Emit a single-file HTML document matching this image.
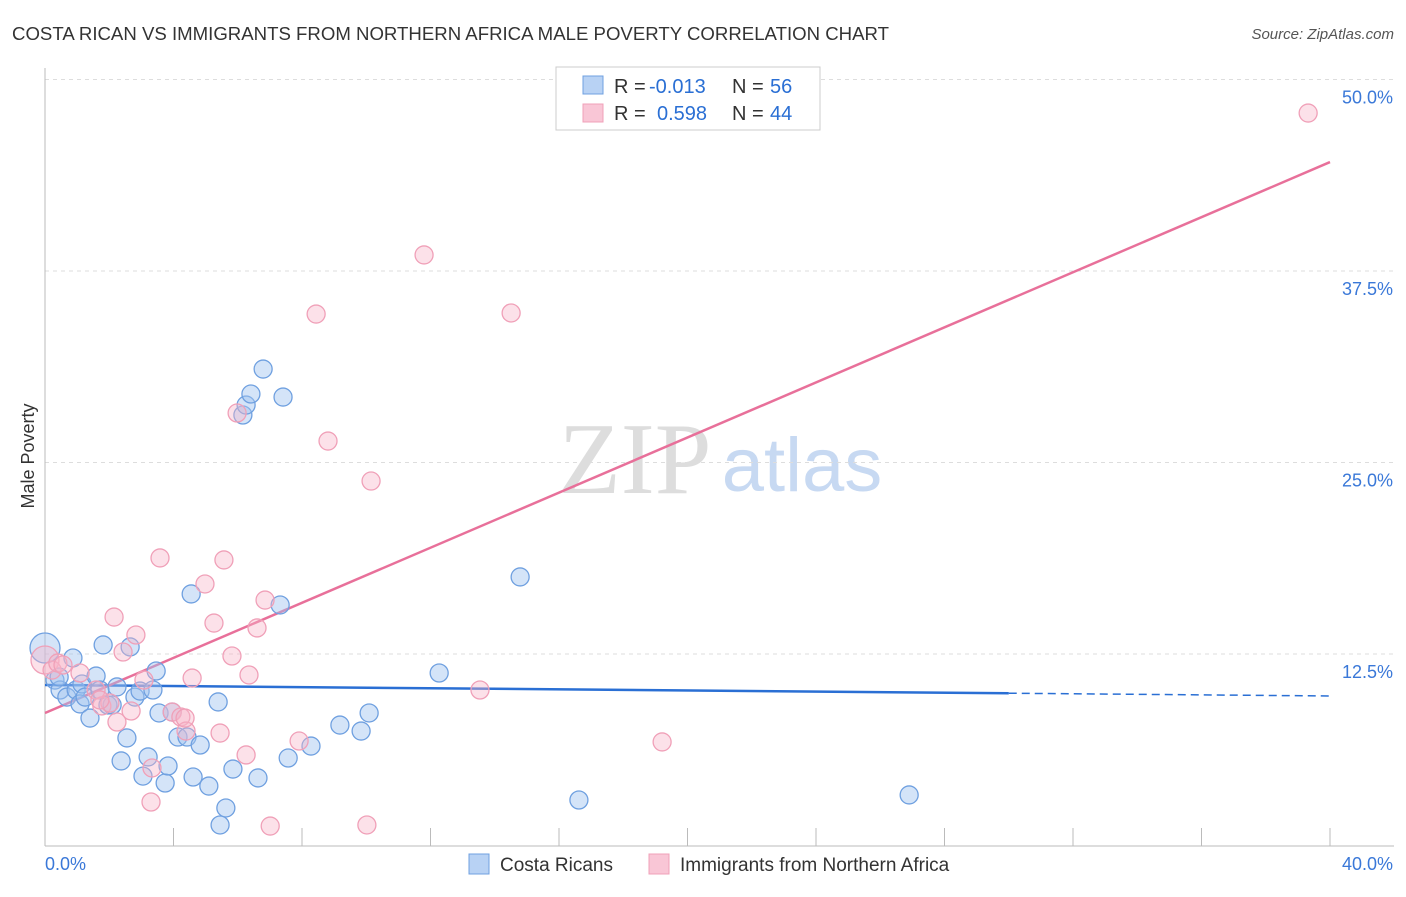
<!DOCTYPE html>
<html><head><meta charset="utf-8"><style>
body{margin:0;background:#fff;font-family:"Liberation Sans",sans-serif;}
svg text{font-family:"Liberation Sans",sans-serif;}
</style></head><body>
<svg id="chart" width="1406" height="892" xmlns="http://www.w3.org/2000/svg">
<text x="12" y="40" font-size="18" fill="#333" textLength="877" lengthAdjust="spacingAndGlyphs">COSTA RICAN VS IMMIGRANTS FROM NORTHERN AFRICA MALE POVERTY CORRELATION CHART</text>
<text x="1394" y="39" font-size="15" fill="#555" text-anchor="end" font-style="italic">Source: ZipAtlas.com</text>
<text x="34" y="456" font-size="18" fill="#333" text-anchor="middle" transform="rotate(-90 34 456)">Male Poverty</text>
<g>
<text x="635" y="493" font-size="102" fill="#ddd" text-anchor="middle" style="font-family:'Liberation Serif',serif">ZIP</text>
<text x="802" y="491" font-size="76" fill="#c7d9f2" text-anchor="middle">atlas</text>
</g>
<g id="grid"></g><g id="axes"></g><g id="lines"></g><g id="pts"></g>
<g>
<rect x="556" y="67" width="264" height="63" fill="#fff" stroke="#ccc"/>
<rect x="583" y="76" width="20" height="18" fill="#b8d2f4" stroke="#6fa0e0"/>
<rect x="583" y="104" width="20" height="18" fill="#f9c6d6" stroke="#f0a0b8"/>
<text x="614" y="93" font-size="20" fill="#333">R = </text><text x="649" y="93" font-size="20" fill="#2a6fd4">-0.013</text>
<text x="732" y="93" font-size="20" fill="#333">N = </text><text x="770" y="93" font-size="20" fill="#2a6fd4">56</text>
<text x="614" y="120" font-size="20" fill="#333">R = </text><text x="657" y="120" font-size="20" fill="#2a6fd4">0.598</text>
<text x="732" y="120" font-size="20" fill="#333">N = </text><text x="770" y="120" font-size="20" fill="#2a6fd4">44</text>
</g>
<g>
<rect x="469" y="854" width="20" height="20" fill="#b8d2f4" stroke="#6fa0e0"/>
<text x="500" y="871" font-size="19" fill="#333">Costa Ricans</text>
<rect x="649" y="854" width="20" height="20" fill="#f9c6d6" stroke="#f0a0b8"/>
<text x="680" y="871" font-size="19" fill="#333">Immigrants from Northern Africa</text>
</g>
</svg>
<script>
const blueX=[0,0.31,0.47,0.68,0.87,0.97,1.09,1.15,1.40,1.59,1.81,1.96,2.09,2.24,2.37,2.55,2.65,2.80,2.96,3.05,3.21,3.36,3.46,3.55,3.74,3.83,3.96,4.14,4.42,4.55,4.61,4.83,5.10,5.39,5.45,5.63,5.85,6.16,6.26,6.41,6.63,6.79,7.32,7.41,7.57,8.28,9.18,9.84,10.09,12.27,14.79,16.62,26.90,0.44,1.25,1.71];
const blueY=[12.89,10.80,10.15,9.69,12.24,10.15,9.24,10.54,8.32,11.06,13.09,9.17,9.17,10.35,5.52,7.02,12.96,9.69,10.08,4.53,5.78,10.15,11.39,8.65,4.08,5.19,8.71,7.08,7.08,16.42,4.47,6.56,3.88,9.37,1.34,2.45,4.99,28.10,28.75,29.47,4.41,31.10,15.70,29.27,5.71,6.49,7.86,7.47,8.65,11.26,17.53,2.97,3.30,11.00,9.69,10.15];
const pinkX=[0,0.22,0.40,0.56,1.09,1.59,1.77,2.02,2.15,2.24,2.43,2.68,2.83,3.08,3.33,3.30,3.58,3.96,4.23,4.39,4.58,4.98,5.26,5.45,5.57,5.82,5.98,6.26,6.35,6.60,6.85,7.01,7.91,8.44,8.81,10.02,10.15,11.80,13.54,14.51,19.21,39.32,4.36,1.71];
const pinkY=[12.11,11.45,11.91,11.78,11.26,10.15,9.11,9.30,14.91,8.06,12.63,8.78,13.74,10.80,5.06,2.84,18.77,8.71,8.39,7.47,10.93,17.07,14.52,7.34,18.64,12.37,28.23,5.91,11.13,14.20,16.02,1.27,6.82,34.69,26.40,1.34,23.79,38.55,10.15,34.76,6.76,47.81,8.32,9.50];
const blueTrend=[10.48,9.76];
const pinkTrend=[8.65,44.61];
const yTicks=[12.5,25,37.5,50];
const yTickLabels=["12.5%","25.0%","37.5%","50.0%"];
const xTicks=[0,4,8,12,16,20,24,28,32,36,40];

const NS="http://www.w3.org/2000/svg";
const X=v=>45+v/40*1285;
const Y=v=>845.5-v/12.5*191.5;
function mk(tag,attrs,parent){const e=document.createElementNS(NS,tag);for(const k in attrs)e.setAttribute(k,attrs[k]);document.getElementById(parent).appendChild(e);return e;}
yTicks.forEach((t,i)=>{
  const l=mk('line',{x1:45,x2:1394,y1:Y(t),y2:Y(t),stroke:'#ddd','stroke-dasharray':'4,4'},'grid');
  
  
  const tx=mk('text',{x:1393,y:Y(t)+24,'font-size':18,fill:'#3a78d8','text-anchor':'end'},'grid');
  tx.textContent=yTickLabels[i];
  
  
});
mk('line',{x1:45,x2:45,y1:68,y2:846,stroke:'#bbb'},'axes');
mk('line',{x1:45,x2:1394,y1:846,y2:846,stroke:'#bbb'},'axes');
xTicks.forEach(t=>{
  const l=mk('line',{x1:X(t),x2:X(t),y1:828,y2:846,stroke:'#bbb'},'axes');
  
  
});
let a=mk('text',{x:45,y:870,'font-size':18,fill:'#3a78d8'},'axes');a.textContent='0.0%';


a=mk('text',{x:1393,y:870,'font-size':18,fill:'#3a78d8','text-anchor':'end'},'axes');a.textContent='40.0%';


const bAt=x=>blueTrend[0]+(blueTrend[1]-blueTrend[0])*x/40;
let bl=mk('line',{x1:X(0),y1:Y(bAt(0)),x2:X(30),y2:Y(bAt(30)),stroke:'#2a6fd4','stroke-width':2.5},'lines');


bl=mk('line',{x1:X(30),y1:Y(bAt(30)),x2:X(40),y2:Y(bAt(40)),stroke:'#2a6fd4','stroke-width':1.5,'stroke-dasharray':'8,5'},'lines');


let pl=mk('line',{x1:X(0),y1:Y(pinkTrend[0]),x2:X(40),y2:Y(pinkTrend[1]),stroke:'#e8709a','stroke-width':2.5},'lines');


blueX.forEach((x,i)=>{
  const c=mk('circle',{cx:X(x),cy:Y(blueY[i]),r:i===0?15:9,fill:'rgba(160,196,240,0.45)',stroke:'#6fa0e0','stroke-width':1.3},'pts');
  
  
});
pinkX.forEach((x,i)=>{
  const c=mk('circle',{cx:X(x),cy:Y(pinkY[i]),r:i===0?14:9,fill:'rgba(248,180,200,0.4)',stroke:'#f0a0b8','stroke-width':1.3},'pts');
  
  
});
</script>
</body></html>
